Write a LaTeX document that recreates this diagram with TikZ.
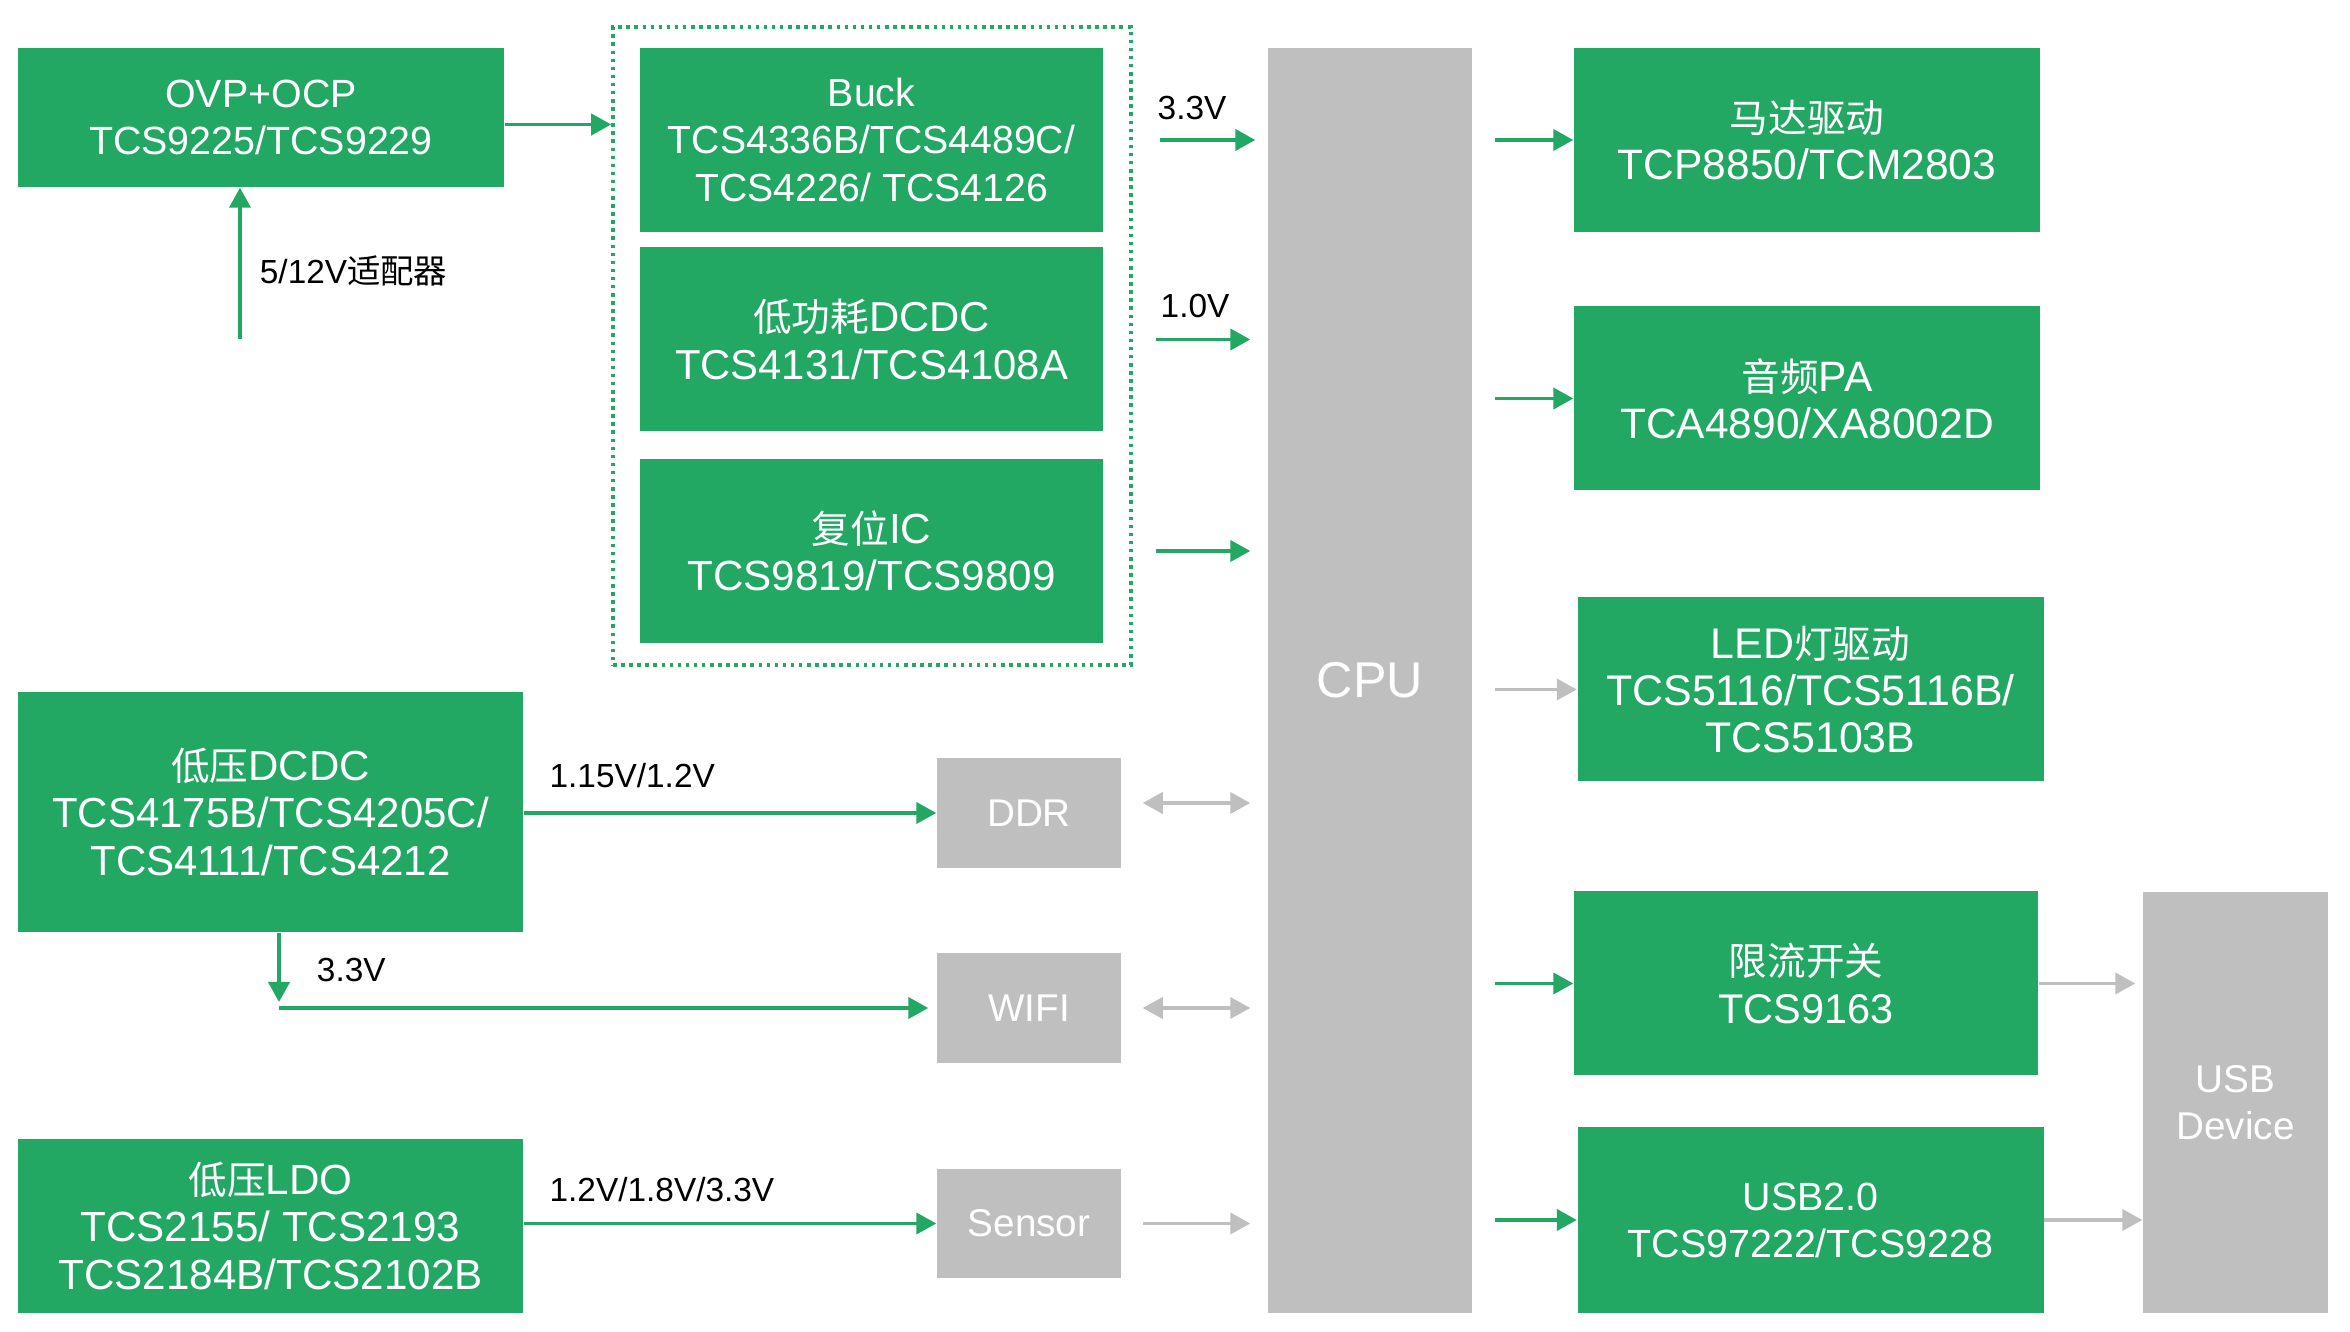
\documentclass[tikz,border=0pt]{standalone}
\usepackage{fontspec}
\setmainfont{Liberation Sans}
\newfontfamily\cjk{Noto Sans CJK SC}
\newcommand\zh[1]{{\fontsize{11}{13.4}\selectfont\cjk #1}}
\usetikzlibrary{arrows.meta, positioning}
\definecolor{tgreen}{HTML}{23A864}
\definecolor{tgray}{HTML}{BFBFBF}
\begin{document}
\begin{tikzpicture}[
    chip/.style={fill=tgreen, text=white, align=center, inner sep=0pt, minimum width=4.63cm, minimum height=1.84cm, font=\fontsize{#1}{13.4}\selectfont},
    chip/.default=11,
    blk/.style={fill=tgray, text=white, align=center, inner sep=0pt, minimum width=1.84cm, minimum height=1.10cm, font=\fontsize{11}{13.4}\selectfont},
    grpbox/.style={draw=tgreen, dash pattern=on 1pt off 1.3pt, line width=1pt, minimum width=5.18cm, minimum height=6.38cm},
    lbl/.style={inner sep=0pt, font=\fontsize{9.5}{11}\selectfont},
    garrow/.style={-{Triangle[length=5.7pt, width=6pt]}, draw=tgreen, line width=1.1pt},
    gyarrow/.style={-{Triangle[length=5.7pt, width=6pt]}, draw=tgray, line width=1pt},
    gydouble/.style={{Triangle[length=5.7pt, width=6pt]}-{Triangle[length=5.7pt, width=6pt]}, draw=tgray, line width=1pt}
]
\useasboundingbox (0,0) rectangle (23.5,-13.32);
% 1. Power input
\node[chip=11.2, minimum width=4.86cm, minimum height=1.39cm] (ovp) at (2.61,-1.175) {OVP+OCP\\TCS9225/TCS9229};
\coordinate (adp) at (2.40,-3.39);
% 2. Regulator group
\node[grpbox] (grp) at (8.72,-3.46) {};
\node[chip=11.15] (buck) at (8.715,-1.40) {Buck\\TCS4336B/TCS4489C/\\TCS4226/ TCS4126};
\node[chip=11.9] (lpdc) at (8.715,-3.395) {\zh{低功耗}DCDC\\TCS4131/TCS4108A};
\node[chip=12] (rst) at (8.715,-5.51) {\zh{复位}IC\\TCS9819/TCS9809};
% 3. CPU
\node[blk, minimum width=2.04cm, minimum height=12.65cm, font=\fontsize{14.3}{16}\selectfont] (cpu) at (13.70,-6.805) {CPU};
% 4. Right side peripherals
\node[chip=12.1, minimum width=4.66cm] (motor) at (18.07,-1.40) {\zh{马达驱动}\\TCP8850/TCM2803};
\node[chip=12.1, minimum width=4.66cm] (audio) at (18.07,-3.985) {\zh{音频}PA\\TCA4890/XA8002D};
\node[chip=12.2, minimum width=4.66cm] (led) at (18.105,-6.895) {LED\zh{灯驱动}\\TCS5116/TCS5116B/\\TCS5103B};
\node[chip=11.8, minimum width=4.64cm] (ilim) at (18.06,-9.835) {\zh{限流开关}\\TCS9163};
\node[chip=11.2, minimum width=4.66cm, minimum height=1.86cm] (usb2) at (18.105,-12.20) {USB2.0\\TCS97222/TCS9228};
\node[blk, minimum width=1.85cm, minimum height=4.21cm] (usbdev) at (22.355,-11.025) {USB\\Device};
% 5. Low voltage rails
\node[chip=11.95, minimum width=5.05cm, minimum height=2.40cm] (lvdc) at (2.705,-8.12) {\zh{低压}DCDC\\TCS4175B/TCS4205C/\\TCS4111/TCS4212};
\node[chip=12, minimum width=5.05cm, minimum height=1.74cm] (ldo) at (2.705,-12.26) {\zh{低压}LDO\\TCS2155/ TCS2193\\TCS2184B/TCS2102B};
\coordinate (tap) at (2.79,-10.08);
\node[blk] (ddr) at (10.29,-8.13) {DDR};
\node[blk] (wifi) at (10.29,-10.08) {WIFI};
\node[blk, minimum height=1.09cm] (sens) at (10.29,-12.235) {Sensor};
% --- Arrows / Connections ---
% Input side
\draw[garrow] ([yshift=-0.07cm]ovp.east) -- ([yshift=-0.07cm]ovp.east -| grp.west);
\draw[garrow] (adp) -- (adp |- ovp.south) node[lbl, pos=0.45, right=0.18cm] {5/12V{\cjk 适配器}};
% Regulators to CPU
\draw[garrow, shorten <=0.27cm, shorten >=0.12cm] (grp.east |- buck) -- (cpu.west |- buck) node[lbl, pos=0, above right=0.18cm and 0.23cm] {3.3V};
\draw[garrow, shorten <=0.23cm, shorten >=0.17cm] (grp.east |- lpdc) -- (cpu.west |- lpdc) node[lbl, pos=0, above right=0.2cm and 0.26cm] {1.0V};
\draw[garrow, shorten <=0.23cm, shorten >=0.17cm] (grp.east |- rst) -- (cpu.west |- rst);
% CPU to peripherals
\foreach \n in {motor, audio, ilim, usb2}
    \draw[garrow, shorten <=0.22cm] (cpu.east |- \n) -- (\n.west);
\draw[gyarrow, shorten <=0.22cm] (cpu.east |- led) -- (led.west);
\draw[gyarrow, shorten >=0.07cm] (ilim.east) -- (ilim.east -| usbdev.west);
\draw[gyarrow] (usb2.east) -- (usb2.east -| usbdev.west);
% Low voltage rails
\draw[garrow] (lvdc.east |- ddr) -- (ddr.west) node[lbl, pos=0, above right=0.23cm and 0.24cm] {1.15V/1.2V};
\draw[garrow, shorten >=0.06cm] (lvdc.south -| tap) -- (tap) node[lbl, midway, right=0.36cm] {3.3V};
\draw[garrow, shorten >=0.08cm] (tap) -- (wifi.west);
\draw[garrow] (ldo.east |- sens) -- (sens.west) node[lbl, pos=0, above right=0.2cm and 0.24cm] {1.2V/1.8V/3.3V};
% Memory and IO to CPU
\draw[gydouble, shorten <=0.21cm, shorten >=0.17cm] ([yshift=0.1cm]ddr.east) -- ([yshift=0.1cm]ddr.east -| cpu.west);
\draw[gydouble, shorten <=0.21cm, shorten >=0.17cm] (wifi.east) -- (wifi.east -| cpu.west);
\draw[gyarrow, shorten <=0.21cm, shorten >=0.17cm] (sens.east) -- (sens.east -| cpu.west);
\end{tikzpicture}
\end{document}
